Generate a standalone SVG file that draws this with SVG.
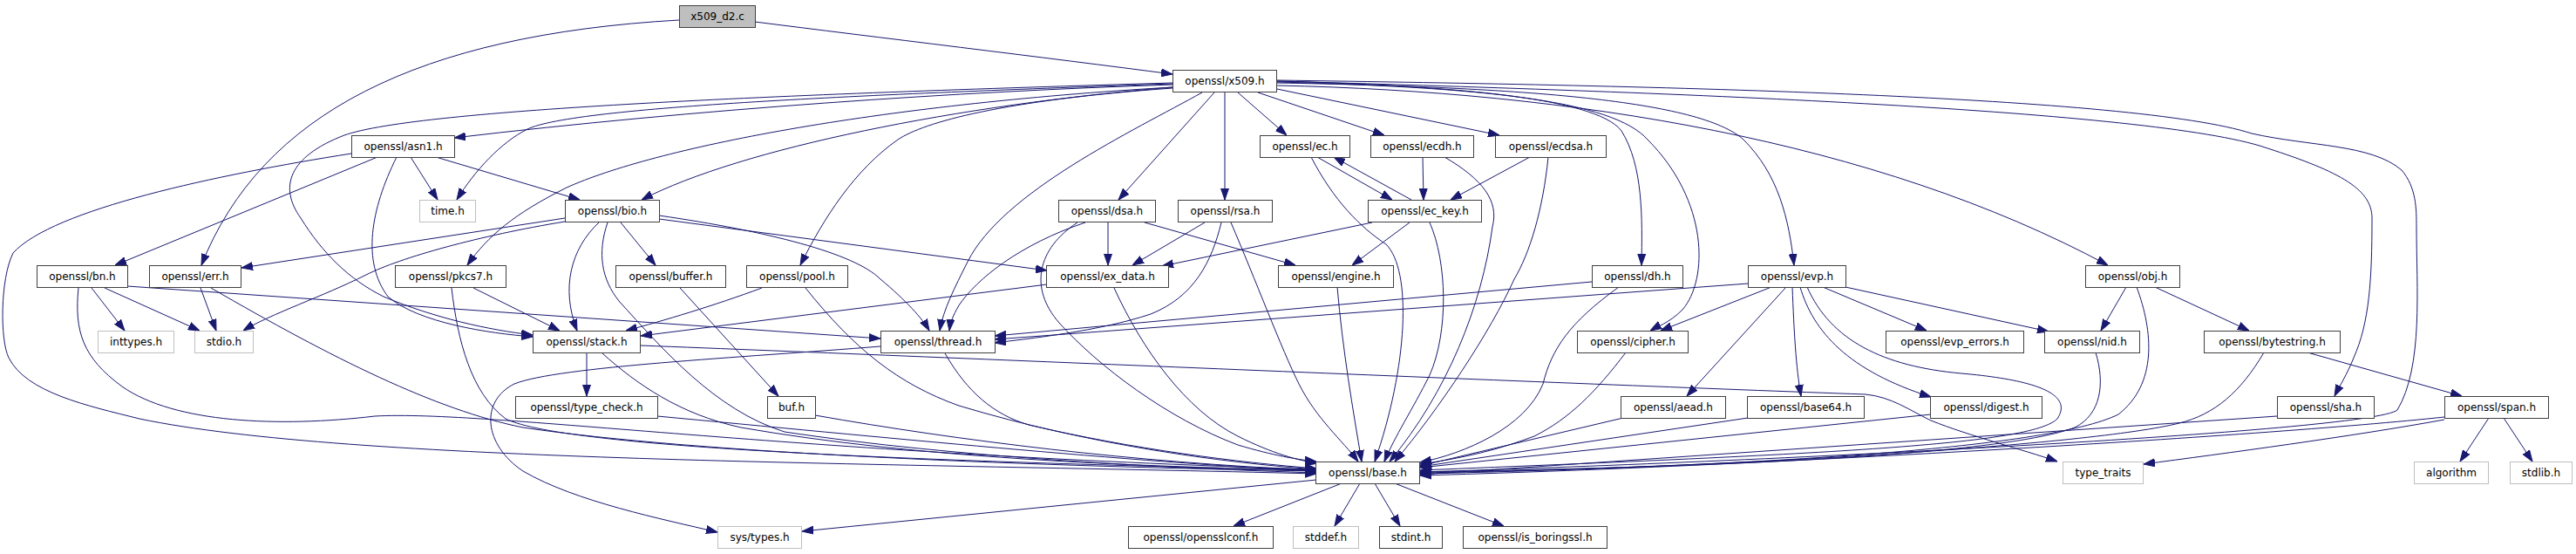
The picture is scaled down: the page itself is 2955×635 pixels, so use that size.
<svg xmlns="http://www.w3.org/2000/svg" width="2955" height="635" viewBox="0 0 2955 635">
<style>
.n rect{fill:#fff;stroke:#404040;stroke-width:1}
.g rect{fill:#fff;stroke:#bfbfbf;stroke-width:1}
.r rect{fill:#bfbfbf;stroke:#404040;stroke-width:1}
text{font-family:"DejaVu Sans",sans-serif;font-size:12px;text-anchor:middle;fill:#000}
#edges path{fill:none;stroke:#191970;stroke-width:1;marker-end:url(#a)}
</style>
<defs>
<marker id="a" markerUnits="userSpaceOnUse" markerWidth="13" markerHeight="10" viewBox="0 0 13 10" refX="13" refY="5" orient="auto">
<path d="M0,0.5 L13,5 L0,9.5 z" fill="#191970" stroke="#191970" stroke-width="1"/>
</marker>
</defs>
<rect width="2955" height="635" fill="#fff"/>
<g id="edges">
<path d="M866,25 C1000,42 1200,66 1345,85"/>
<path d="M779,23 C480,40 300,130 231,304"/>
<path d="M1345,97 C1100,105 800,125 521,158"/>
<path d="M1345,96 C1000,108 660,122 605,148 C575,163 545,195 524,229"/>
<path d="M1345,95 C900,108 480,125 395,155 C330,180 320,215 345,250 C370,290 400,320 440,340 C500,365 560,378 611,384"/>
<path d="M455,180 C425,240 415,300 445,340 C480,370 560,382 611,386"/>
<path d="M433,180 L132,304"/>
<path d="M471,180 L502,229"/>
<path d="M500,180 L665,229"/>
<path d="M403,176 C250,200 60,240 15,290 C0,320 0,390 10,410 C30,450 100,465 160,480 C400,530 1000,530 1510,543"/>
<path d="M1345,100 C1000,120 750,170 650,215 C590,245 560,270 536,304"/>
<path d="M1345,100 C1100,120 850,170 736,229"/>
<path d="M1345,101 C1150,115 1060,140 1030,160 C980,195 945,250 918,304"/>
<path d="M1379,106 C1300,150 1150,220 1110,300 C1095,330 1082,355 1078,379"/>
<path d="M1393,106 L1283,229"/>
<path d="M1405,106 L1405,229"/>
<path d="M1420,106 L1476,155"/>
<path d="M1443,106 L1588,155"/>
<path d="M1465,102 L1720,155"/>
<path d="M1465,93 C1650,98 1830,110 1860,150 C1885,190 1884,250 1883,304"/>
<path d="M1465,94 C1700,100 1850,115 1890,160 C1960,230 1960,320 1930,355 C1915,370 1900,375 1893,379"/>
<path d="M1465,95 C1750,100 1950,115 2000,160 C2040,200 2052,250 2058,304"/>
<path d="M1465,98 C1800,105 2150,160 2418,304"/>
<path d="M1465,93 C1900,105 2450,125 2592,167 C2680,195 2721,215 2721,250 C2721,320 2718,370 2700,410 C2692,430 2684,442 2678,454"/>
<path d="M1465,92 C1900,98 2450,110 2583,153 C2650,168 2720,165 2755,195 C2772,215 2772,240 2772,260 C2772,330 2780,420 2750,470 C2720,495 2000,530 1629,541"/>
<path d="M648,250 L277,307"/>
<path d="M648,254 C550,270 460,295 420,315 C370,340 310,360 279,379"/>
<path d="M687,255 C655,285 643,330 662,379"/>
<path d="M712,255 L752,304"/>
<path d="M756,247 C880,265 980,290 1010,320 C1040,345 1058,365 1066,379"/>
<path d="M756,251 L1201,310"/>
<path d="M697,255 C685,290 690,320 710,345 C760,400 820,470 900,495 C1100,525 1350,537 1510,542"/>
<path d="M105,330 L143,379"/>
<path d="M120,330 L229,379"/>
<path d="M146,328 L1010,388"/>
<path d="M90,330 C85,380 95,410 140,443 C200,485 320,490 430,477 C560,470 900,520 1510,538"/>
<path d="M230,330 L248,379"/>
<path d="M242,330 C380,410 500,470 600,490 C800,520 1200,535 1510,540"/>
<path d="M543,330 L642,379"/>
<path d="M518,330 C525,390 540,450 580,480 C650,515 1100,530 1510,539"/>
<path d="M673,405 L673,454"/>
<path d="M691,405 C730,440 780,475 850,490 C1050,525 1300,535 1510,539"/>
<path d="M735,396 C1100,410 1800,440 2140,452 C2170,455 2190,470 2215,482 C2260,500 2320,515 2360,529"/>
<path d="M754,477 C1000,500 1300,530 1510,540"/>
<path d="M780,330 L893,454"/>
<path d="M935,476 C1100,505 1300,530 1510,539"/>
<path d="M874,330 C820,350 760,368 718,379"/>
<path d="M924,330 C980,400 1030,440 1100,465 C1250,510 1400,530 1510,538"/>
<path d="M1201,326 L735,385"/>
<path d="M1278,330 C1310,400 1360,470 1420,500 C1460,520 1490,528 1512,531"/>
<path d="M1084,405 C1110,450 1140,475 1180,487 C1300,515 1420,530 1510,537"/>
<path d="M1010,397 C850,410 640,420 590,440 C550,460 555,510 600,540 C660,575 760,595 823,610"/>
<path d="M1271,255 L1271,304"/>
<path d="M1313,255 L1486,304"/>
<path d="M1245,255 C1170,280 1120,320 1100,350 C1093,362 1090,370 1089,379"/>
<path d="M1236,255 C1190,285 1180,330 1215,370 C1260,420 1340,480 1420,510 C1460,522 1490,527 1510,529"/>
<path d="M1382,255 L1299,304"/>
<path d="M1401,255 C1390,300 1370,340 1320,360 C1260,380 1180,388 1141,393"/>
<path d="M1412,255 C1440,320 1470,400 1490,440 C1510,480 1540,505 1558,529"/>
<path d="M1511,180 L1597,229"/>
<path d="M1619,229 L1530,180"/>
<path d="M1504,180 C1530,230 1560,260 1590,280 C1620,310 1615,420 1577,529"/>
<path d="M1574,255 L1333,305"/>
<path d="M1617,255 L1551,304"/>
<path d="M1640,255 C1660,300 1662,380 1640,430 C1620,470 1600,500 1588,529"/>
<path d="M1632,180 L1633,229"/>
<path d="M1657,180 C1700,205 1720,230 1712,260 C1700,350 1660,450 1594,529"/>
<path d="M1755,180 L1664,229"/>
<path d="M1776,180 C1770,240 1755,290 1737,320 C1710,380 1650,470 1600,529"/>
<path d="M1534,329 C1540,400 1552,470 1562,529"/>
<path d="M1826,323 L1141,385"/>
<path d="M1857,329 C1800,370 1780,400 1770,440 C1750,490 1680,520 1629,530"/>
<path d="M2005,325 L1141,389"/>
<path d="M2032,329 L1905,379"/>
<path d="M2049,329 L1935,454"/>
<path d="M2056,329 C2058,380 2060,420 2066,454"/>
<path d="M2065,329 C2080,380 2120,425 2215,455"/>
<path d="M2091,329 L2210,379"/>
<path d="M2117,329 L2350,380"/>
<path d="M2073,329 C2100,390 2160,420 2250,428 C2330,435 2380,450 2360,480 C2330,510 2100,520 1629,539"/>
<path d="M1865,404 C1830,450 1800,480 1760,500 C1720,515 1680,525 1629,532"/>
<path d="M1862,479 L1629,534"/>
<path d="M2005,479 L1629,535"/>
<path d="M2215,475 L1629,536"/>
<path d="M2404,404 C2415,440 2410,475 2380,490 C2300,520 2000,535 1629,541"/>
<path d="M2439,329 L2410,379"/>
<path d="M2472,329 L2580,379"/>
<path d="M2451,329 C2470,380 2475,440 2430,475 C2350,515 2000,535 1629,542"/>
<path d="M2597,404 C2570,450 2540,475 2500,485 C2400,510 2000,535 1629,543"/>
<path d="M2647,404 L2824,454"/>
<path d="M2612,477 L1629,544"/>
<path d="M2804,478 C2600,500 2000,535 1629,545"/>
<path d="M2804,481 C2700,500 2550,520 2459,532"/>
<path d="M2855,479 L2822,529"/>
<path d="M2872,479 L2905,529"/>
<path d="M1510,550 L920,609"/>
<path d="M1539,554 L1415,603"/>
<path d="M1560,554 L1531,603"/>
<path d="M1577,554 L1606,603"/>
<path d="M1600,554 L1725,603"/>
</g>
<g id="x509_d2_c" class="r"><rect x="779.5" y="6.5" width="87" height="25"/><text x="823" y="23">x509_d2.c</text></g>
<g id="x509_h" class="n"><rect x="1345.5" y="80.5" width="119" height="25"/><text x="1405" y="97">openssl/x509.h</text></g>
<g id="asn1_h" class="n"><rect x="403.5" y="155.5" width="118" height="25"/><text x="462.5" y="172">openssl/asn1.h</text></g>
<g id="ec_h" class="n"><rect x="1445.5" y="155.5" width="103" height="25"/><text x="1497" y="172">openssl/ec.h</text></g>
<g id="ecdh_h" class="n"><rect x="1572.5" y="155.5" width="118" height="25"/><text x="1631.5" y="172">openssl/ecdh.h</text></g>
<g id="ecdsa_h" class="n"><rect x="1715.5" y="155.5" width="127" height="25"/><text x="1779" y="172">openssl/ecdsa.h</text></g>
<g id="time_h" class="g"><rect x="481.5" y="229.5" width="64" height="25"/><text x="513.5" y="246">time.h</text></g>
<g id="bio_h" class="n"><rect x="648.5" y="229.5" width="108" height="25"/><text x="702.5" y="246">openssl/bio.h</text></g>
<g id="dsa_h" class="n"><rect x="1214.5" y="229.5" width="111" height="25"/><text x="1270" y="246">openssl/dsa.h</text></g>
<g id="rsa_h" class="n"><rect x="1351.5" y="229.5" width="108" height="25"/><text x="1405.5" y="246">openssl/rsa.h</text></g>
<g id="ec_key_h" class="n"><rect x="1569.5" y="229.5" width="130" height="25"/><text x="1634.5" y="246">openssl/ec_key.h</text></g>
<g id="bn_h" class="n"><rect x="42.5" y="304.5" width="104" height="25"/><text x="94.5" y="321">openssl/bn.h</text></g>
<g id="err_h" class="n"><rect x="171.5" y="304.5" width="105" height="25"/><text x="224" y="321">openssl/err.h</text></g>
<g id="pkcs7_h" class="n"><rect x="453.5" y="304.5" width="127" height="25"/><text x="517" y="321">openssl/pkcs7.h</text></g>
<g id="buffer_h" class="n"><rect x="706.5" y="304.5" width="126" height="25"/><text x="769.5" y="321">openssl/buffer.h</text></g>
<g id="pool_h" class="n"><rect x="856.5" y="304.5" width="116" height="25"/><text x="914.5" y="321">openssl/pool.h</text></g>
<g id="ex_data_h" class="n"><rect x="1200.5" y="304.5" width="140" height="25"/><text x="1270.5" y="321">openssl/ex_data.h</text></g>
<g id="engine_h" class="n"><rect x="1466.5" y="304.5" width="132" height="25"/><text x="1532.5" y="321">openssl/engine.h</text></g>
<g id="dh_h" class="n"><rect x="1826.5" y="304.5" width="104" height="25"/><text x="1878.5" y="321">openssl/dh.h</text></g>
<g id="evp_h" class="n"><rect x="2005.5" y="304.5" width="112" height="25"/><text x="2061.5" y="321">openssl/evp.h</text></g>
<g id="obj_h" class="n"><rect x="2392.5" y="304.5" width="108" height="25"/><text x="2446.5" y="321">openssl/obj.h</text></g>
<g id="inttypes_h" class="g"><rect x="112.5" y="379.5" width="87" height="25"/><text x="156" y="396">inttypes.h</text></g>
<g id="stdio_h" class="g"><rect x="223.5" y="379.5" width="67" height="25"/><text x="257" y="396">stdio.h</text></g>
<g id="stack_h" class="n"><rect x="611.5" y="379.5" width="123" height="25"/><text x="673" y="396">openssl/stack.h</text></g>
<g id="thread_h" class="n"><rect x="1010.5" y="379.5" width="131" height="25"/><text x="1076" y="396">openssl/thread.h</text></g>
<g id="cipher_h" class="n"><rect x="1809.5" y="379.5" width="127" height="25"/><text x="1873" y="396">openssl/cipher.h</text></g>
<g id="evp_errors_h" class="n"><rect x="2163.5" y="379.5" width="158" height="25"/><text x="2242.5" y="396">openssl/evp_errors.h</text></g>
<g id="nid_h" class="n"><rect x="2345.5" y="379.5" width="109" height="25"/><text x="2400" y="396">openssl/nid.h</text></g>
<g id="bytestring_h" class="n"><rect x="2528.5" y="379.5" width="156" height="25"/><text x="2606.5" y="396">openssl/bytestring.h</text></g>
<g id="type_check_h" class="n"><rect x="591.5" y="454.5" width="163" height="25"/><text x="673" y="471">openssl/type_check.h</text></g>
<g id="buf_h" class="n"><rect x="880.5" y="454.5" width="55" height="25"/><text x="908" y="471">buf.h</text></g>
<g id="aead_h" class="n"><rect x="1859.5" y="454.5" width="120" height="25"/><text x="1919.5" y="471">openssl/aead.h</text></g>
<g id="base64_h" class="n"><rect x="2004.5" y="454.5" width="134" height="25"/><text x="2071.5" y="471">openssl/base64.h</text></g>
<g id="digest_h" class="n"><rect x="2214.5" y="454.5" width="128" height="25"/><text x="2278.5" y="471">openssl/digest.h</text></g>
<g id="sha_h" class="n"><rect x="2612.5" y="454.5" width="111" height="25"/><text x="2668" y="471">openssl/sha.h</text></g>
<g id="span_h" class="n"><rect x="2804.5" y="454.5" width="119" height="25"/><text x="2864" y="471">openssl/span.h</text></g>
<g id="base_h" class="n"><rect x="1509.5" y="529.5" width="119" height="25"/><text x="1569" y="546">openssl/base.h</text></g>
<g id="type_traits" class="g"><rect x="2366.5" y="529.5" width="92" height="25"/><text x="2412.5" y="546">type_traits</text></g>
<g id="algorithm" class="g"><rect x="2769.5" y="529.5" width="85" height="25"/><text x="2812" y="546">algorithm</text></g>
<g id="stdlib_h" class="g"><rect x="2879.5" y="529.5" width="71" height="25"/><text x="2915" y="546">stdlib.h</text></g>
<g id="sys_types_h" class="g"><rect x="823.5" y="603.5" width="96" height="25"/><text x="871.5" y="620">sys/types.h</text></g>
<g id="opensslconf_h" class="n"><rect x="1294.5" y="603.5" width="166" height="25"/><text x="1377.5" y="620">openssl/opensslconf.h</text></g>
<g id="stddef_h" class="g"><rect x="1483.5" y="603.5" width="75" height="25"/><text x="1521" y="620">stddef.h</text></g>
<g id="stdint_h" class="n"><rect x="1582.5" y="603.5" width="72" height="25"/><text x="1618.5" y="620">stdint.h</text></g>
<g id="is_boringssl_h" class="n"><rect x="1678.5" y="603.5" width="165" height="25"/><text x="1761" y="620">openssl/is_boringssl.h</text></g>
</svg>
